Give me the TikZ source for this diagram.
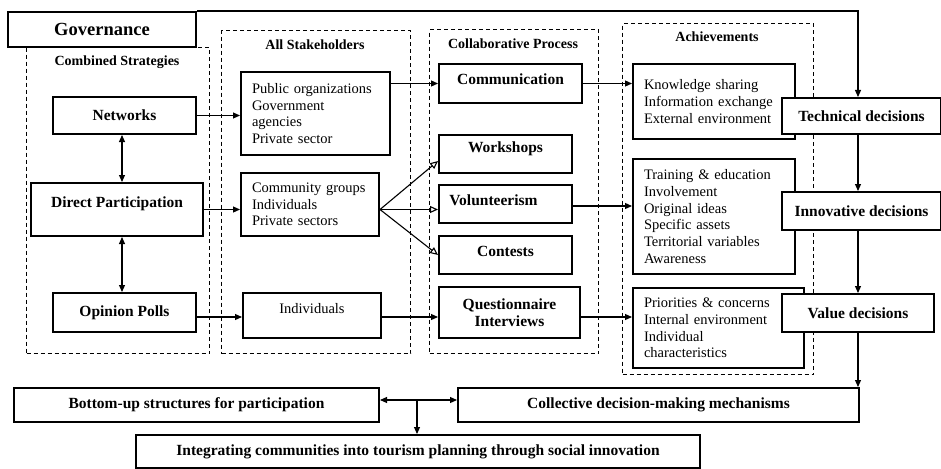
\documentclass[tikz,border=0pt]{standalone}
\usepackage{fontspec}
\setmainfont{Liberation Serif}
\usetikzlibrary{arrows.meta,calc}
\newcommand\fbl{\fontsize{15.5}{16.5}\selectfont\bfseries}
\newcommand\fhd{\fontsize{14}{16}\selectfont\bfseries}
\newcommand\frg{\fontsize{14.5}{16.7}\selectfont}
\newcommand\fgov{\fontsize{18.5}{21}\selectfont\bfseries}
\newcommand\upby[2]{\raisebox{#1}[\height][\depth]{#2}}
\begin{document}
\begin{tikzpicture}[x=1pt,y=-1pt,
 box/.style={draw,line width=2pt,fill=white,inner sep=0pt,anchor=north west,font=\fbl,align=center},
 tbox/.style={draw,line width=2pt,fill=white,inner sep=0pt,inner xsep=11pt,anchor=north west,font=\frg,align=left},
 dbox/.style={draw,line width=1.1pt,dash pattern=on 4pt off 3pt,inner sep=0pt,anchor=north west},
 hd/.style={font=\fhd,inner sep=0pt},
 arr/.style={line width=1.1pt,-{Triangle[length=7pt,width=6pt]}},
 oarr/.style={line width=1.1pt,-{Triangle[open,length=8pt,width=7pt]}},
 darr/.style={line width=1.1pt,{Triangle[length=7pt,width=6pt]}-{Triangle[length=7pt,width=6pt]}},
]
\useasboundingbox[fill=white] (0,0) rectangle (941,468);
% dashed groups
\node[dbox,minimum width=183pt,minimum height=306pt] (cs) at (26,47) {};
\node[dbox,minimum width=189pt,minimum height=323pt] (as) at (221,30) {};
\node[dbox,minimum width=169pt,minimum height=324pt] (cp) at (429,29) {};
\node[dbox,minimum width=191pt,minimum height=351pt] (ach) at (622,23) {};
\node[hd] (lcs) at (117,62) {Combined Strategies};
\node[hd] (las) at (315,45) {All Stakeholders};
\node[hd] (lcp) at (513,44) {Collaborative Process};
\node[hd] (lach) at (717,37) {Achievements};
% governance
\node[box,font=\fgov,minimum width=188pt,minimum height=35pt] (gov) at (7,11) {Governance};
% left column
\node[box,minimum width=143pt,minimum height=37pt] (net) at (52,96) {Networks};
\node[box,minimum width=172pt,minimum height=53pt] (dp) at (30,182) {\upby{6pt}{Direct Participation}};
\node[box,minimum width=143pt,minimum height=39pt] (op) at (52,292) {Opinion Polls};
% stakeholders
\node[tbox,text width=127pt,minimum height=83pt] (pub) at (240,71) {Public organizations\\Government\\agencies\\Private sector};
\node[tbox,text width=116pt,minimum height=63pt] (cg) at (240,172) {Community groups\\Individuals\\Private sectors};
\node[box,font=\frg,minimum width=138pt,minimum height=45pt] (ind) at (242,292) {\upby{7pt}{Individuals}};
% collaborative process
\node[box,minimum width=143pt,minimum height=39pt] (comm) at (438,63) {\upby{4.5pt}{Communication}};
\node[box,minimum width=133pt,minimum height=38pt] (work) at (438,134) {\upby{5pt}{Workshops}};
\node[box,minimum width=133pt,minimum height=38pt] (vol) at (438,184) {\upby{4pt}{Volunteerism\hspace{24pt}}};
\node[box,minimum width=133pt,minimum height=38pt] (cont) at (438,235) {\upby{4pt}{Contests}};
\node[box,minimum width=141pt,minimum height=51pt] (quest) at (438,286) {Questionnaire\\Interviews};
% achievements
\node[tbox,text width=140pt,minimum height=75pt] (a1) at (632,63) {Knowledge sharing\\Information exchange\\External environment};
\node[tbox,text width=140pt,minimum height=115pt] (a2) at (632,158) {Training \& education\\Involvement\\Original ideas\\Specific assets\\Territorial variables\\Awareness};
\node[tbox,text width=149pt,minimum height=80pt] (a3) at (632,287) {Priorities \& concerns\\Internal environment\\Individual\\characteristics};
% decisions
\node[box,minimum width=159pt,minimum height=36pt] (tech) at (781,97) {Technical decisions};
\node[box,minimum width=159pt,minimum height=38pt] (innov) at (781,191) {Innovative decisions};
\node[box,minimum width=152pt,minimum height=38pt] (val) at (781,293) {Value decisions};
% bottom
\node[box,minimum width=365pt,minimum height=34pt] (bu) at (13,387) {Bottom-up structures for participation};
\node[box,minimum width=401pt,minimum height=34pt] (coll) at (457,387) {Collective decision-making mechanisms};
\node[box,minimum width=564pt,minimum height=33pt] (integ) at (135,434) {Integrating communities into tourism planning through social innovation};
% helper coordinates
\coordinate (vx) at (858,0);
\coordinate (r3) at (0,317);
\coordinate (cx) at (122,0);
\coordinate (bx) at (417,400);
\coordinate (fan) at ($(cg.east)+(0,5)$);
\coordinate (vo) at ($(vol.east)+(0,2)$);
\coordinate (wk) at ($(work.west)+(0,7)$);
% connectors
\draw[arr] (gov.north east) -- (gov.north east -| vx) -- (vx |- tech.north);
\draw[arr] (vx |- tech.south) -- (vx |- innov.north);
\draw[arr] (vx |- innov.south) -- (vx |- val.north);
\draw[arr] (vx |- val.south) -- (vx |- coll.north);
\draw[darr] (cx |- net.south) -- (cx |- dp.north);
\draw[darr] (cx |- dp.south) -- (cx |- op.north);
\draw[arr] (net.east) -- (net.east -| pub.west);
\draw[arr] (dp.east) -- (dp.east -| cg.west);
\draw[arr] (op.east |- r3) -- (ind.west |- r3);
\draw[arr] (comm.west -| pub.east) -- (comm.west);
\draw[oarr] (fan) -- (wk);
\draw[oarr] (fan) -- (fan -| vol.west);
\draw[oarr] (fan) -- (cont.west);
\draw[arr] (ind.east |- r3) -- (quest.west |- r3);
\draw[arr] (comm.east) -- (comm.east -| a1.west);
\draw[arr] (vo) -- (vo -| a2.west);
\draw[arr] (quest.east |- r3) -- (a3.west |- r3);
\draw[darr] (bu.east |- bx) -- (coll.west |- bx);
\draw[arr] (bx) -- (bx |- integ.north);
\end{tikzpicture}
\end{document}
